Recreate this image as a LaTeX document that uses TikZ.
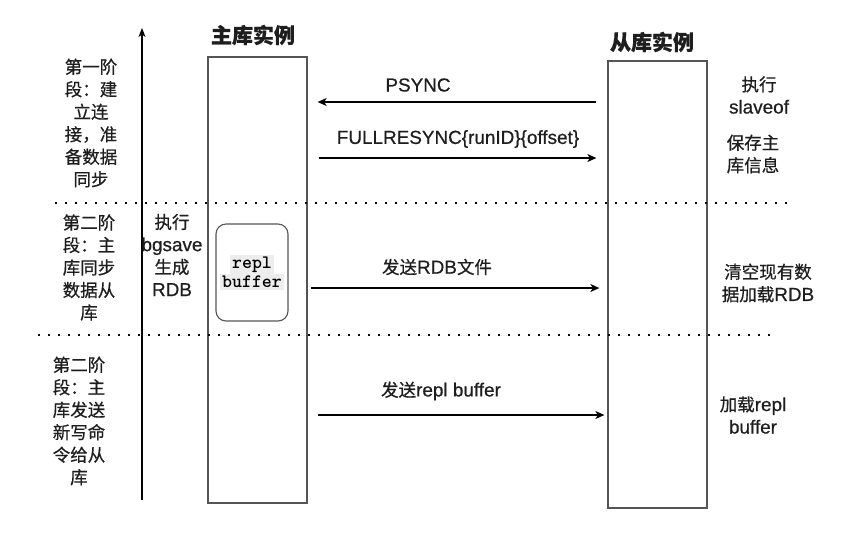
\documentclass[tikz,border=0pt]{standalone}
\usepackage{fontspec}
\setmainfont{Noto Sans CJK SC}[FakeBold=0.6]
\newfontfamily\la{Liberation Sans}[Scale=1.08, FakeBold=0.6]
\usetikzlibrary{arrows.meta,positioning}
\definecolor{lanegray}{HTML}{555555}
\definecolor{codebg}{HTML}{EDEDED}
\definecolor{ink}{HTML}{1E1E1E}
\newcommand{\code}[1]{{\setlength{\fboxsep}{2pt}\colorbox{codebg}{\ttfamily\bfseries #1}}}

\begin{document}
\begin{tikzpicture}[
  x=1pt, y=-1pt,
  lane/.style={draw=lanegray, line width=1.3pt, minimum width=99pt, inner sep=0pt},
  buf/.style={draw=lanegray, line width=1.1pt, rounded corners=10pt, minimum width=72pt,
    minimum height=97pt, align=center, inner sep=0pt, font=\fontsize{19}{21}\selectfont},
  title/.style={font=\bfseries\fontsize{21}{24}\selectfont, text=ink},
  lbl/.style={align=center, inner sep=0pt, text=ink, font=\fontsize{17.5}{22.5}\selectfont},
  msg/.style={-{Stealth[length=9pt, width=8pt, inset=2.5pt]}, line width=1.2pt},
  axis/.style={-{Stealth[length=9pt, width=7pt, inset=2.5pt]}, line width=1.2pt},
  sep/.style={line width=1.8pt, dash pattern=on 1.8pt off 8.2pt}
]
\useasboundingbox (0,0) rectangle (858,550);

\node[lane, minimum height=446pt] (m) at (257.5,280) {};
\node[lane, minimum height=447pt] (s) at (657.5,284.5) {};
\node[title] (mt) at (253,35) {主库实例};
\node[title] (st) at (652,42) {从库实例};

\coordinate (ab) at (142,500);
\coordinate (at) at (142,28);
\draw[axis] (ab) -- (at);

\coordinate (d1a) at (55,203);
\coordinate (d1b) at (788,203);
\coordinate (d2a) at (38,335);
\coordinate (d2b) at (770,335);
\draw[sep] (d1a) -- (d1b);
\draw[sep] (d2a) -- (d2b);

\node[lbl] (ph1) at (91,123) {第一阶\\段：建\\立连\\接，准\\备数据\\同步};
\node[lbl] (ph2) at (89,267.5) {第二阶\\段：主\\库同步\\数据从\\库};
\node[lbl] (ph3) at (79,421) {第二阶\\段：主\\库发送\\新写命\\令给从\\库};
\node[lbl] (bg) at (172,255) {执行\\{\la bgsave}\\生成\\{\la RDB}};
\node[buf] (r) at (252,272.5) {\code{repl}\\[-2pt]\code{buffer}};

\coordinate (y1) at (0,102);
\coordinate (y2) at (0,158);
\coordinate (y3) at (0,288);
\coordinate (y4) at (0,415);
\draw[msg, shorten <=11pt, shorten >=10pt] (s.west |- y1) -- (m.east |- y1);
\draw[msg, shorten <=11pt, shorten >=11pt] (m.east |- y2) -- (s.west |- y2);
\draw[msg, shorten <=3pt, shorten >=8pt] (m.east |- y3) -- (s.west |- y3);
\draw[msg, shorten <=10pt, shorten >=3pt] (m.east |- y4) -- (s.west |- y4);

\node[lbl] (l1) at (418,85) {\la PSYNC};
\node[lbl] (l2) at (458,139) {\la FULLRESYNC\{runID\}\{offset\}};
\node[lbl] (l3) at (437,267) {发送{\la RDB}文件};
\node[lbl] (l4) at (441,391) {发送{\la repl buffer}};

\node[lbl] (a1) at (759,95) {执行\\{\la slaveof}};
\node[lbl] (a2) at (753,154) {保存主\\库信息};
\node[lbl] (a3) at (768,283) {清空现有数\\据加载{\la RDB}};
\node[lbl] (a4) at (753,415) {加载{\la repl}\\{\la buffer}};
\end{tikzpicture}
\end{document}
